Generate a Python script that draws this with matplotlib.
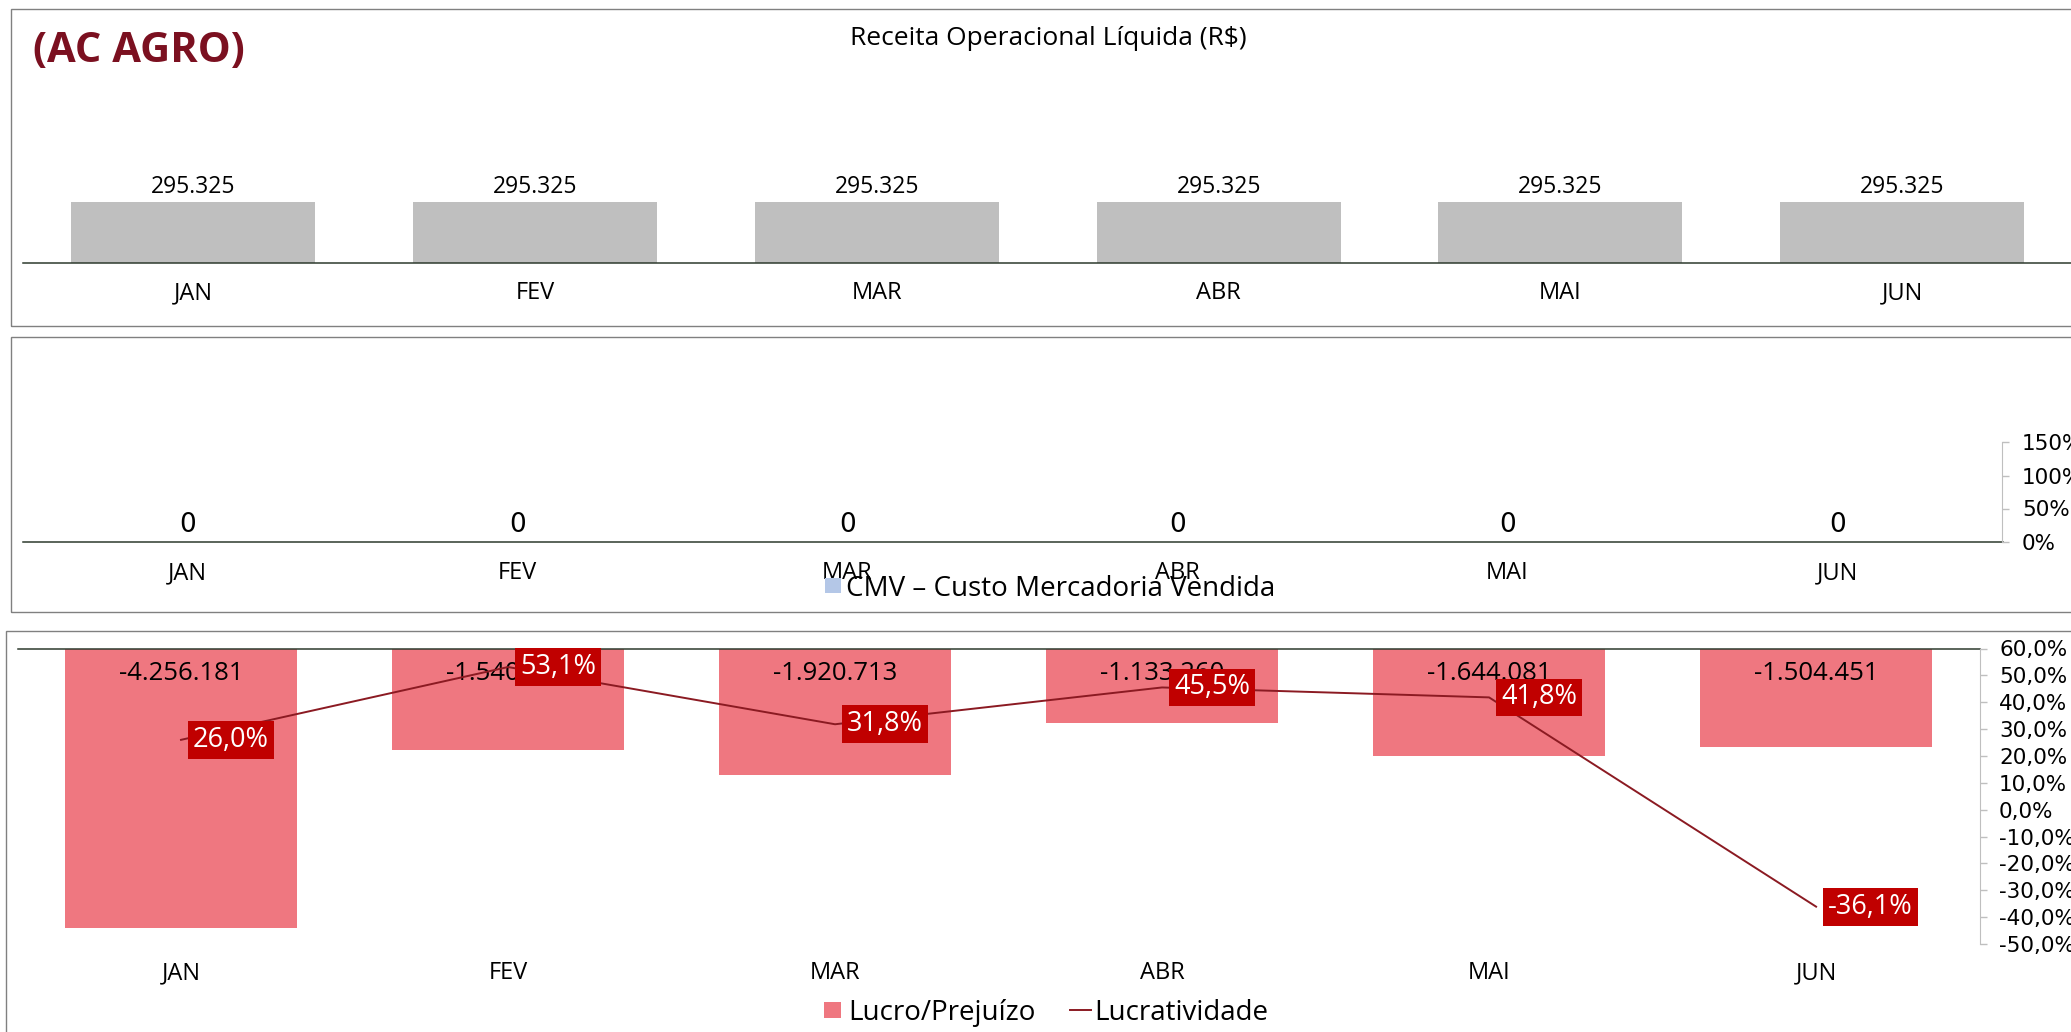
import matplotlib
matplotlib.use("Agg")
import matplotlib.pyplot as plt
from matplotlib.patches import Rectangle
from matplotlib.lines import Line2D
from matplotlib.transforms import blended_transform_factory
import numpy as np

plt.rcParams['font.family'] = ['Open Sans', 'DejaVu Sans']

# ---------------- data ----------------
months = ['JAN', 'FEV', 'MAR', 'ABR', 'MAI', 'JUN']
receita = [295325, 295325, 295325, 295325, 295325, 295325]
cmv = [0, 0, 0, 0, 0, 0]
lucro = [-4256181, -1540600, -1920713, -1133260, -1644081, -1504451]
lucratividade = [0.260, 0.531, 0.318, 0.455, 0.418, -0.361]
cmv_pct_ticks = [0.0, 0.5, 1.0, 1.5]
lucr_pct_ticks = [-0.5, -0.4, -0.3, -0.2, -0.1, 0.0, 0.1, 0.2, 0.3, 0.4, 0.5, 0.6]

W, H = 2071, 1032
fig = plt.figure(figsize=(W / 100, H / 100), dpi=100)


def fx(p):
    return p / W


def fy(p):
    return 1 - p / H


def axes_px(l, t, r, b):
    return fig.add_axes([fx(l), fy(b), (r - l) / W, (b - t) / H])


def base_from_center(yc, size, cap=0.714):
    return yc + cap * 0.5 * size / 0.72


DARK = '#2e3a2e'
GRAY_AX = '#bfbfbf'
FRAME = '#808080'
MONTH_FS = 17

# ---------------- frames ----------------
for (l, t, r, b) in [(10.5, 9, 2090, 325.5), (10.5, 337, 2090, 611.5), (6, 631, 2090, 1050)]:
    fig.patches.append(Rectangle((fx(l), fy(b)), (r - l) / W, (b - t) / H,
                                 transform=fig.transFigure, fill=False,
                                 edgecolor=FRAME, linewidth=1.0))

x = np.arange(len(months))

# ---------------- panel 1 ----------------
ax1 = axes_px(22.6, 56.4, 2073, 263)
ax1.bar(x, receita, width=0.714, color='#bfbfbf', zorder=2)
ax1.set_xlim(-0.5, 5.5)
ax1.set_ylim(0, 1_000_000)
for s in ['top', 'left', 'right']:
    ax1.spines[s].set_visible(False)
ax1.spines['bottom'].set_color(DARK)
ax1.spines['bottom'].set_linewidth(1.1)
ax1.set_xticks([])
ax1.set_yticks([])
ax1.patch.set_visible(False)
for i, v in enumerate(receita):
    ax1.annotate(f"{v:,}".replace(',', '.'), (i, v), xytext=(0, 6.5),
                 textcoords='offset points', ha='center', va='baseline',
                 fontsize=16.5, color='black')
tr1 = blended_transform_factory(ax1.transData, fig.transFigure)
for i, m in enumerate(months):
    ax1.text(i, fy(base_from_center(290.6, MONTH_FS)), m, transform=tr1,
             ha='center', va='baseline', fontsize=MONTH_FS)

fig.text(fx(1048), fy(base_from_center(36, 19)), 'Receita Operacional Líquida (R$)',
         ha='center', va='baseline', fontsize=19)
fig.text(fx(33), fy(base_from_center(47, 30)), '(AC AGRO)', ha='left', va='baseline',
         fontsize=30, fontweight='bold', color='#7b1020')

# ---------------- panel 2 ----------------
ax2 = axes_px(22.6, 442.5, 2002.5, 541.5)
ax2.bar(x, cmv, width=0.714, color='#b4c7e7', zorder=2)
ax2.set_xlim(-0.5, 5.5)
ax2.set_ylim(0, 1)
for s in ['top', 'left', 'right']:
    ax2.spines[s].set_visible(False)
ax2.spines['bottom'].set_color(DARK)
ax2.spines['bottom'].set_linewidth(1.1)
ax2.set_xticks([])
ax2.set_yticks([])
ax2.patch.set_visible(False)
for i, v in enumerate(cmv):
    ax2.annotate(f"{v:,}".replace(',', '.'), (i, v), xytext=(0, 7.0),
                 textcoords='offset points', ha='center', va='baseline',
                 fontsize=19, color='black', fontfamily='DejaVu Sans')
tr2 = blended_transform_factory(ax2.transData, fig.transFigure)
for i, m in enumerate(months):
    ax2.text(i, fy(base_from_center(570.6, MONTH_FS)), m, transform=tr2,
             ha='center', va='baseline', fontsize=MONTH_FS)
ax2t = ax2.twinx()
ax2t.set_ylim(0, 1.5)
ax2t.set_yticks(cmv_pct_ticks)
ax2t.set_yticklabels([f"{t * 100:.0f}%" for t in cmv_pct_ticks], fontfamily='DejaVu Sans')
for s in ['top', 'left', 'bottom']:
    ax2t.spines[s].set_visible(False)
ax2t.spines['right'].set_color(GRAY_AX)
ax2t.tick_params(axis='y', direction='out', length=5, width=1, color=GRAY_AX,
                 pad=9.0, labelsize=15.5)

fig.patches.append(Rectangle((fx(825), fy(593)), 15.5 / W, 15.5 / H,
                             transform=fig.transFigure, color='#b4c7e7', lw=0))
fig.text(fx(846), fy(base_from_center(586, 20)), 'CMV – Custo Mercadoria Vendida',
         ha='left', va='baseline', fontsize=20)

# ---------------- panel 3 ----------------
ax3 = axes_px(17.5, 648.5, 1979.6, 944)
ax3.bar(x, lucro, width=0.711, color='#ef7780', zorder=2)
ax3.set_xlim(-0.5, 5.5)
ax3.set_ylim(-4_500_000, 0)
for s in ['bottom', 'left', 'right']:
    ax3.spines[s].set_visible(False)
ax3.spines['top'].set_color(DARK)
ax3.spines['top'].set_linewidth(1.1)
ax3.spines['top'].set_zorder(3)
ax3.set_xticks([])
ax3.set_yticks([])
ax3.patch.set_visible(False)
for i, v in enumerate(lucro):
    ax3.annotate(f"{v:,}".replace(',', '.'), (i, 0), xytext=(0, -23),
                 textcoords='offset points', ha='center', va='baseline',
                 fontsize=18.5, color='black', zorder=3)
tr3 = blended_transform_factory(ax3.transData, fig.transFigure)
for i, m in enumerate(months):
    ax3.text(i, fy(base_from_center(971, MONTH_FS)), m, transform=tr3,
             ha='center', va='baseline', fontsize=MONTH_FS)

ax3t = ax3.twinx()
ax3t.set_ylim(-0.5, 0.6)
ax3t.plot(x, lucratividade, color='#8b1a22', lw=1.4, zorder=2)
for i, v in enumerate(lucratividade):
    ax3t.annotate(f"{v * 100:.1f}%".replace('.', ','), (i, v), xytext=(8.6, 0),
                  textcoords='offset points', ha='left', va='center',
                  fontsize=19.5, color='white', zorder=5,
                  bbox=dict(boxstyle='square,pad=0.18', fc='#c00000', ec='none'))
ax3t.set_yticks(lucr_pct_ticks)
ax3t.set_yticklabels([f"{t * 100:.1f}%".replace('.', ',') for t in lucr_pct_ticks],
                     fontfamily='DejaVu Sans')
for s in ['top', 'left', 'bottom']:
    ax3t.spines[s].set_visible(False)
ax3t.spines['right'].set_color(GRAY_AX)
ax3t.tick_params(axis='y', direction='out', length=5, width=1, color=GRAY_AX,
                 pad=9.0, labelsize=15.5)

fig.patches.append(Rectangle((fx(824), fy(1018)), 16.5 / W, 16.5 / H,
                             transform=fig.transFigure, color='#ef7780', lw=0))
fig.text(fx(848), fy(base_from_center(1010, 20)), 'Lucro/Prejuízo',
         ha='left', va='baseline', fontsize=20)
fig.lines.append(Line2D([fx(1070), fx(1091)], [fy(1010), fy(1010)],
                        transform=fig.transFigure, color='#8b1a22', lw=1.4))
fig.text(fx(1094), fy(base_from_center(1010, 20)), 'Lucratividade',
         ha='left', va='baseline', fontsize=20)

fig.savefig('out.png', dpi=100)
